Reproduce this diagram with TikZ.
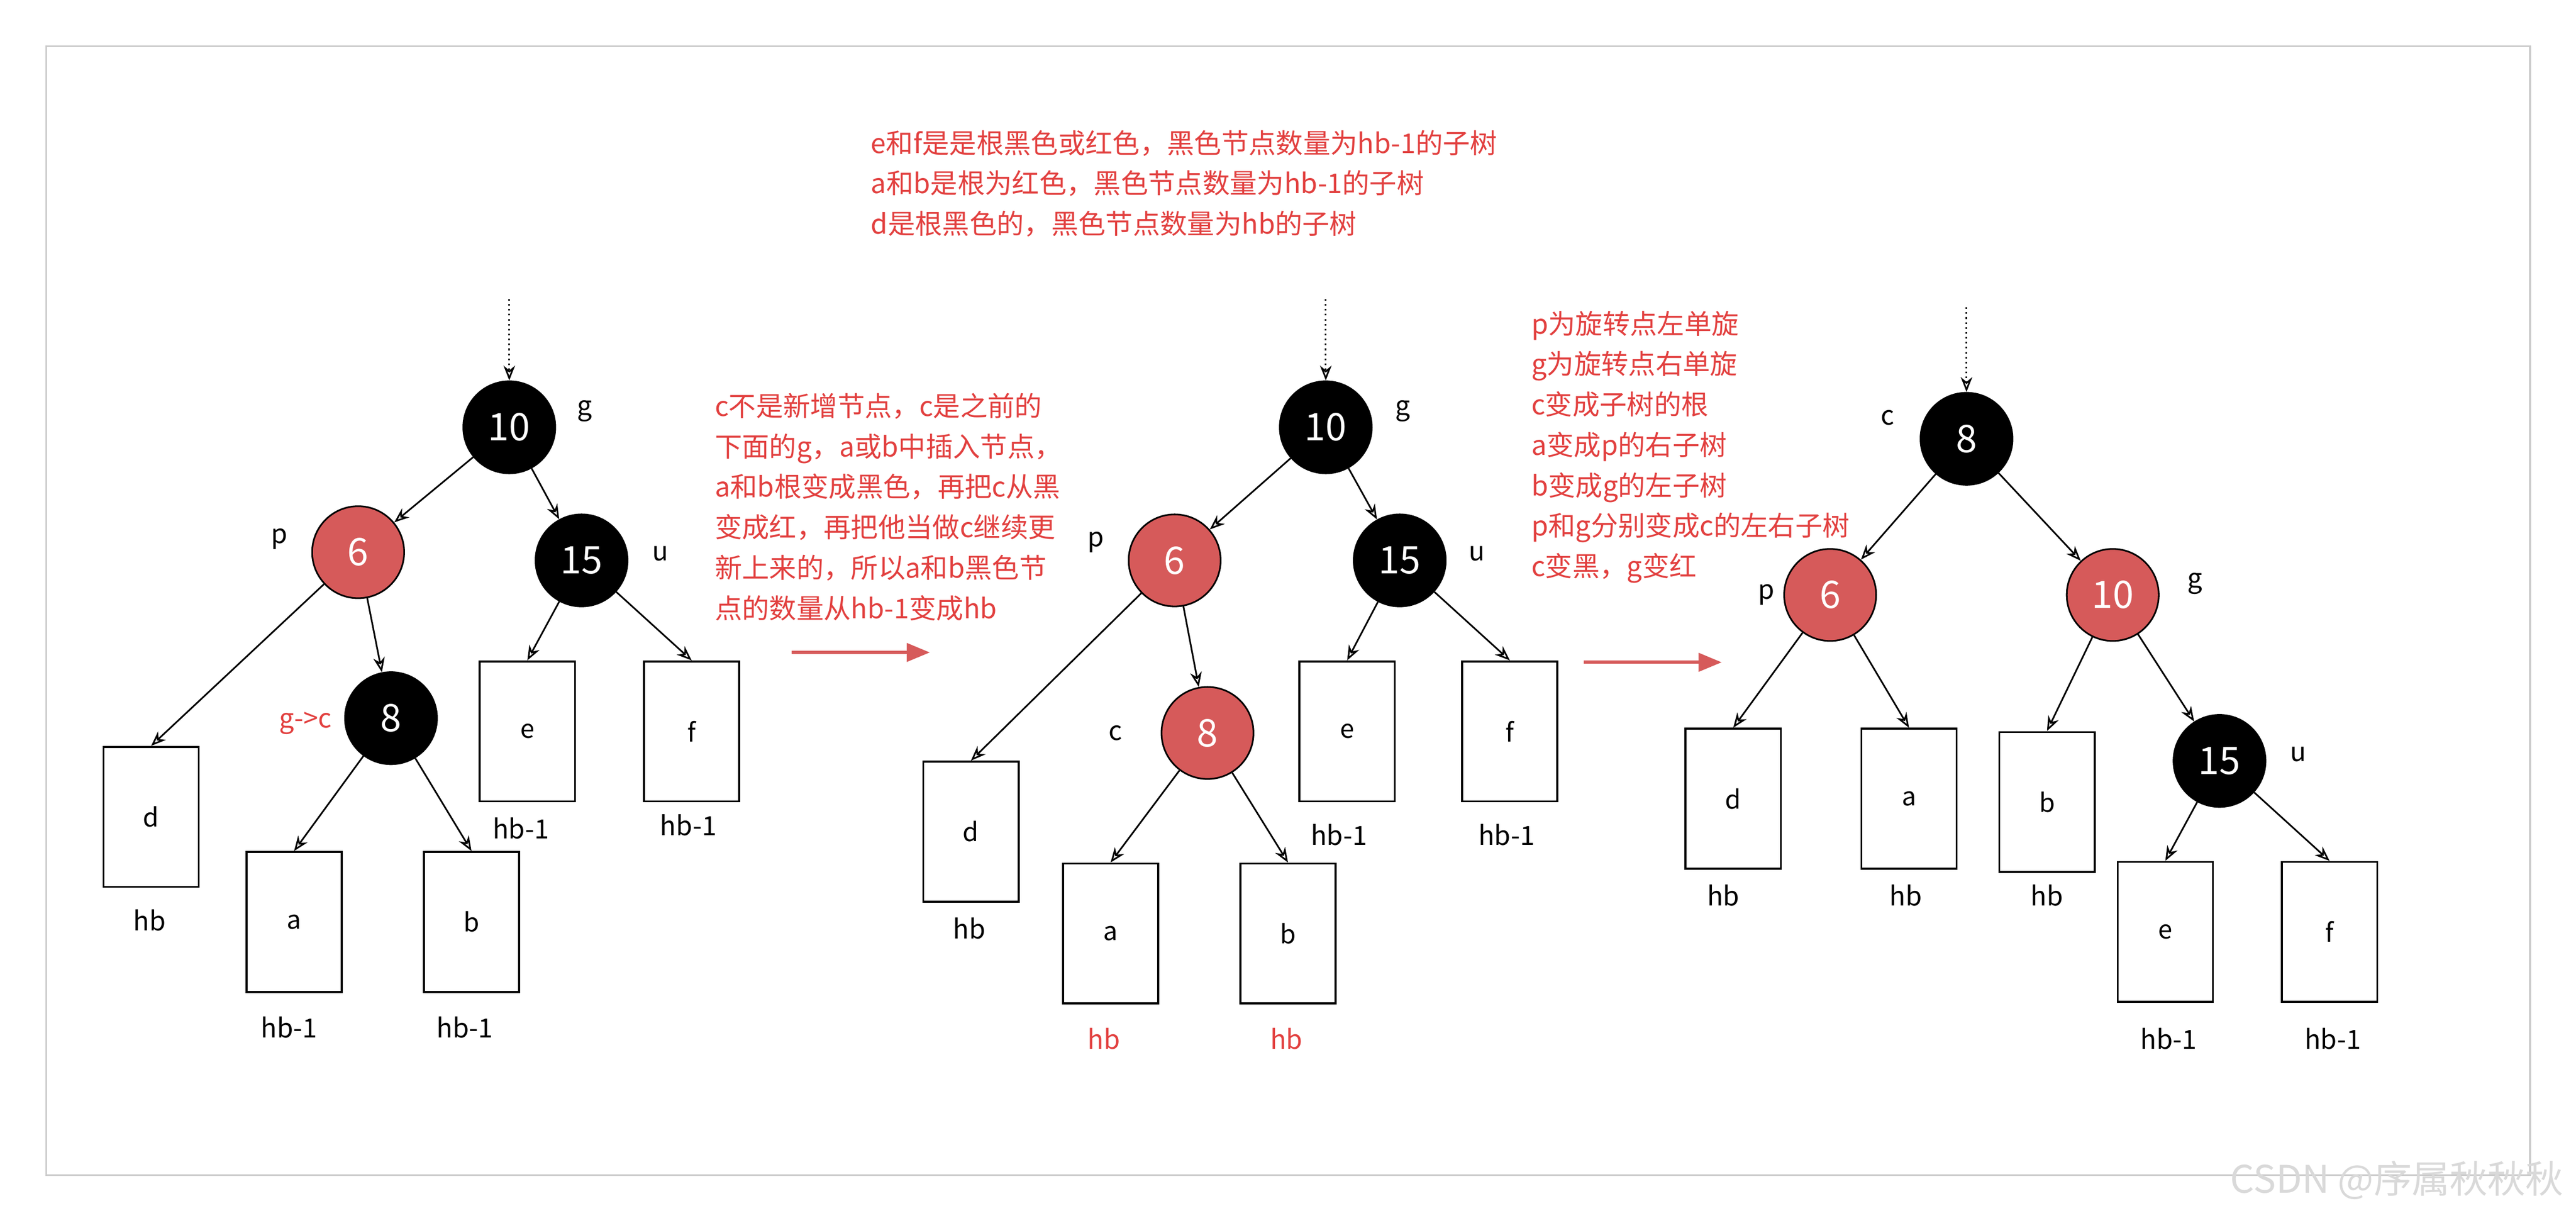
\documentclass[tikz,border=0pt]{standalone}
\usepackage{fontspec}
\setmainfont{Noto Sans CJK SC}
\usetikzlibrary{arrows.meta}
\definecolor{nodered}{HTML}{D65A5A}
\definecolor{txtred}{HTML}{E2403F}

\tikzset{
  rb/.style={circle,draw=black,line width=1pt,minimum size=1.96cm,inner sep=0pt,font=\fontsize{23}{25}\selectfont},
  blk/.style={rb,fill=black,text=white},
  rd/.style={rb,fill=nodered,text=white},
  leaf/.style={rectangle,draw=black,line width=1.2pt,minimum width=2.03cm,minimum height=2.98cm,font=\fontsize{15.5}{17}\selectfont},
  lbl/.style={font=\fontsize{16}{18}\selectfont},
  note/.style={anchor=north west,align=left,text=txtred,font=\fontsize{16.5}{24.5}\selectfont,inner sep=0pt},
  edge/.style={-{Stealth[length=9pt,width=7pt,open]},line width=1pt},
  push/.style={-{Triangle[length=14pt,width=11pt]},line width=2pt,draw=nodered}
}

\begin{document}
\begin{tikzpicture}[x=0.035cm,y=-0.035cm]
\useasboundingbox (0,0) rectangle (1568,744);
\fill[white] (0,0) rectangle (1568,744);
\draw[black!20,line width=1pt] (28,28) rectangle (1540,715);
\node[text=black!15,anchor=east,font=\fontsize{23}{25}\selectfont] at (1564,718) {CSDN @序属秋秋秋};

% first tree
\coordinate (top1) at (310,182);
\node[blk] (g1) at (310,260) {10};
\node[rd]  (p1) at (218,336) {6};
\node[blk] (u1) at (354,341) {15};
\node[blk] (c1) at (238,437) {8};
\node[leaf] (d1) at (92,497) {d};
\node[leaf] (a1) at (179,561) {a};
\node[leaf] (b1) at (287,561) {b};
\node[leaf] (e1) at (321,445) {e};
\node[leaf] (f1) at (421,445) {f};
\draw[edge,dotted] (top1) -- (g1);
\draw[edge] (g1) -- (p1);
\draw[edge] (g1) -- (u1);
\draw[edge] (p1) -- (d1.north);
\draw[edge] (p1) -- (c1);
\draw[edge] (c1) -- (a1.north);
\draw[edge] (c1) -- (b1.north);
\draw[edge] (u1) -- (e1.north);
\draw[edge] (u1) -- (f1.north);
\node[lbl] (lg1) at (356,250) {g};
\node[lbl] (lp1) at (170,328) {p};
\node[lbl] (lu1) at (402,337) {u};
\node[lbl,text=txtred] (lc1) at (186,440) {g->c};
\node[lbl] (h1d) at (91,560) {hb};
\node[lbl] (h1a) at (176,625) {hb-1};
\node[lbl] (h1b) at (283,625) {hb-1};
\node[lbl] (h1e) at (317,504) {hb-1};
\node[lbl] (h1f) at (419,502) {hb-1};

% notes
\node[note] (n0) at (530,79) {e和f是是根黑色或红色，黑色节点数量为hb-1的子树\\a和b是根为红色，黑色节点数量为hb-1的子树\\d是根黑色的，黑色节点数量为hb的子树};
\node[note] (n1) at (435,239) {c不是新增节点，c是之前的\\下面的g，a或b中插入节点，\\a和b根变成黑色，再把c从黑\\变成红，再把他当做c继续更\\新上来的，所以a和b黑色节\\点的数量从hb-1变成hb};
\coordinate (s1) at (482,397);
\coordinate (t1) at (566,397);
\draw[push] (s1) -- (t1);

% second tree
\coordinate (top2) at (807,182);
\node[blk] (g2) at (807,260) {10};
\node[rd]  (p2) at (715,341) {6};
\node[blk] (u2) at (852,341) {15};
\node[rd]  (c2) at (735,446) {8};
\node[leaf] (d2) at (591,506) {d};
\node[leaf] (a2) at (676,568) {a};
\node[leaf] (b2) at (784,568) {b};
\node[leaf] (e2) at (820,445) {e};
\node[leaf] (f2) at (919,445) {f};
\draw[edge,dotted] (top2) -- (g2);
\draw[edge] (g2) -- (p2);
\draw[edge] (g2) -- (u2);
\draw[edge] (p2) -- (d2.north);
\draw[edge] (p2) -- (c2);
\draw[edge] (c2) -- (a2.north);
\draw[edge] (c2) -- (b2.north);
\draw[edge] (u2) -- (e2.north);
\draw[edge] (u2) -- (f2.north);
\node[lbl] (lg2) at (854,250) {g};
\node[lbl] (lp2) at (667,330) {p};
\node[lbl] (lu2) at (899,337) {u};
\node[lbl] (lc2) at (679,446) {c};
\node[lbl] (h2d) at (590,565) {hb};
\node[lbl,text=txtred] (h2a) at (672,632) {hb};
\node[lbl,text=txtred] (h2b) at (783,632) {hb};
\node[lbl] (h2e) at (815,508) {hb-1};
\node[lbl] (h2f) at (917,508) {hb-1};

\node[note] (n2) at (932,189) {p为旋转点左单旋\\g为旋转点右单旋\\c变成子树的根\\a变成p的右子树\\b变成g的左子树\\p和g分别变成c的左右子树\\c变黑，g变红};
\coordinate (s2) at (964,403);
\coordinate (t2) at (1048,403);
\draw[push] (s2) -- (t2);

% third tree
\coordinate (top3) at (1197,187);
\node[blk] (c3) at (1197,267) {8};
\node[rd]  (p3) at (1114,362) {6};
\node[rd]  (g3) at (1286,362) {10};
\node[blk] (u3) at (1351,463) {15};
\node[leaf] (d3) at (1055,486) {d};
\node[leaf] (a3) at (1162,486) {a};
\node[leaf] (b3) at (1246,488) {b};
\node[leaf] (e3) at (1318,567) {e};
\node[leaf] (f3) at (1418,567) {f};
\draw[edge,dotted] (top3) -- (c3);
\draw[edge] (c3) -- (p3);
\draw[edge] (c3) -- (g3);
\draw[edge] (p3) -- (d3.north);
\draw[edge] (p3) -- (a3.north);
\draw[edge] (g3) -- (b3.north);
\draw[edge] (g3) -- (u3);
\draw[edge] (u3) -- (e3.north);
\draw[edge] (u3) -- (f3.north);
\node[lbl] (lc3) at (1149,254) {c};
\node[lbl] (lp3) at (1075,362) {p};
\node[lbl] (lg3) at (1336,355) {g};
\node[lbl] (lu3) at (1399,459) {u};
\node[lbl] (h3d) at (1049,545) {hb};
\node[lbl] (h3a) at (1160,545) {hb};
\node[lbl] (h3b) at (1246,545) {hb};
\node[lbl] (h3e) at (1320,632) {hb-1};
\node[lbl] (h3f) at (1420,632) {hb-1};
\end{tikzpicture}
\end{document}
